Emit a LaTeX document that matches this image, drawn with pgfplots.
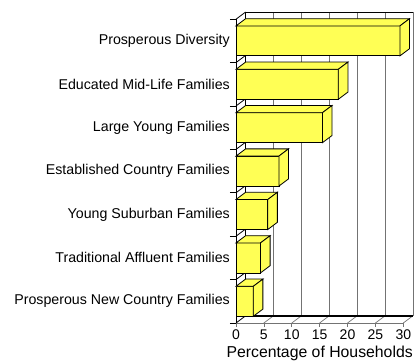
\documentclass[border=0pt]{standalone}
\usepackage{pgfplots}
\pgfplotsset{compat=1.18}
\usepackage{pgfplotstable}
\usepackage{fontspec}
\setmainfont{Liberation Sans}
\definecolor{baryellow}{RGB}{255,255,85}
\definecolor{gridgray}{RGB}{115,115,115}

\pgfplotstableread{
k v
0 3.1
1 4.4
2 5.7
3 7.7
4 15.5
5 18.35
6 29.4
}\datatable

\begin{document}
\begin{tikzpicture}
\useasboundingbox (0,0) rectangle (415bp,363bp);
\begin{axis}[
  at={(236bp,40bp)}, anchor=south west,
  scale only axis, width=167.3bp, height=303.8bp,
  xmin=0, xmax=30, ymin=-0.5, ymax=6.5,
  clip=false,
  axis line style={draw=none},
  xtick={0,5,...,30},
  ytick={0,...,6},
  yticklabels={Prosperous New Country Families, Traditional Affluent Families, Young Suburban Families, Established Country Families, Large Young Families, Educated Mid-Life Families, Prosperous Diversity},
  minor ytick={-0.5,0.5,...,6.5},
  tick align=outside,
  tick pos=left,
  major tick length=4bp, minor tick length=6bp,
  major x tick style={gridgray, line width=0.6bp},
  major y tick style={draw=none},
  minor y tick style={black, line width=0.9bp},
  /pgf/number format/assume math mode=true,
  xticklabel style={font=\fontsize{14bp}{16bp}\selectfont, inner sep=0pt, yshift=-3bp},
  yticklabel style={font=\fontsize{14.2bp}{16bp}\selectfont, inner sep=0pt, anchor=east, xshift=-2bp},
  xlabel={Percentage of Households},
  xlabel style={font=\fontsize{15.8bp}{18bp}\selectfont, at={(axis description cs:0.5,0)}, anchor=north, inner sep=0pt, yshift=-23bp},
  barface/.style={fill=baryellow, draw=black, line width=0.8bp, line join=miter},
]
% back wall gridlines
\pgfplotsinvokeforeach{5,10,15,20,25,30}{
  \draw[gridgray, line width=0.8bp, shift={(9.6bp,7.2bp)}] (#1,-0.5) -- (#1,6.5);
}
% back wall left edge and top
\draw[black, line width=0.8bp, shift={(9.6bp,7.2bp)}] (0,-0.5) -- (0,6.5) -- (30,6.5);
% floor front edge
\draw[gridgray, line width=0.6bp] (0,-0.5) -- (30,-0.5);
% floor diagonals
\pgfplotsinvokeforeach{5,10,15,20,25,30}{
  \draw[gridgray, line width=0.7bp] (#1,-0.5) -- ++(9.6bp,7.2bp);
}
% floor back edge (thick)
\draw[black, line width=1.8bp, shift={(9.6bp,7.2bp)}] (0,-0.5) -- (30,-0.5);
% left wall front edge and diagonals
\draw[black, line width=0.8bp] (0,-0.5) -- (0,6.5);
\pgfplotsinvokeforeach{-0.5,0.5,1.5,2.5,3.5,4.5,5.5,6.5}{
  \draw[black, line width=0.8bp] (0,#1) -- ++(9.6bp,7.2bp);
}
% bars: front faces
\addplot[xbar, bar width=30bp, barface] table[x=v, y=k]{\datatable};
% bars: top and side faces
\pgfplotsinvokeforeach{0,...,6}{
  \pgfplotstablegetelem{#1}{v}\of\datatable
  \pgfmathsetmacro\vv{\pgfplotsretval}
  \pgfmathsetmacro\vx{\pgfplotsretval+1.72}
  \pgfmathsetmacro\ylo{#1-0.3456}
  \pgfmathsetmacro\yhi{#1+0.3456}
  \pgfmathsetmacro\ylod{#1-0.3456+0.166}
  \pgfmathsetmacro\yhid{#1+0.3456+0.166}
  \edef\temp{\noexpand\addplot[barface] coordinates {(0,\yhi) (\vv,\yhi) (\vx,\yhid) (1.72,\yhid) (0,\yhi)} -- cycle;
    \noexpand\addplot[barface] coordinates {(\vv,\ylo) (\vx,\ylod) (\vx,\yhid) (\vv,\yhi) (\vv,\ylo)} -- cycle;}
  \temp
}
\end{axis}
\end{tikzpicture}
\end{document}
